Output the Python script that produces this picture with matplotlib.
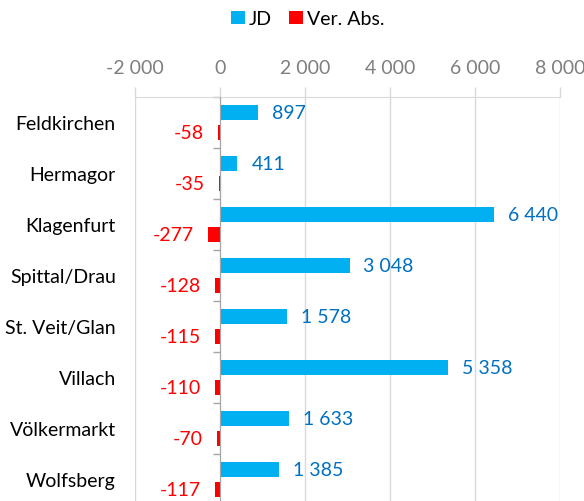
import numpy as np
import matplotlib
matplotlib.use('Agg')
import matplotlib.pyplot as plt

plt.rcParams['font.family'] = ['Lato', 'DejaVu Sans']

bezirke = ['Feldkirchen', 'Hermagor', 'Klagenfurt', 'Spittal/Drau',
           'St. Veit/Glan', 'Villach', 'Völkermarkt', 'Wolfsberg']
jd = [897, 411, 6440, 3048, 1578, 5358, 1633, 1385]
ver_abs = [-58, -35, -277, -128, -115, -110, -70, -117]

xticks = [-2000, 0, 2000, 4000, 6000, 8000]

c_jd = '#00B0F0'
c_jd_txt = '#0070C0'
c_red = '#FF0000'
c_grid = '#D9D9D9'
c_tick = '#7F7F7F'
fs = 14


def fmt(v):
    return f'{v:,}'.replace(',', ' ')


fig = plt.figure(figsize=(5.84, 5.02), dpi=100)
# plot area: x from 135 to 560 px, y from 98 px down past the bottom edge
ax = fig.add_axes([135 / 584, -4 / 502, 425 / 584, 408 / 502])

y = np.arange(len(bezirke))
h = 0.3
ax.barh(y - 0.19, jd, h, color=c_jd, label='JD', zorder=3)
ax.barh(y + 0.19, ver_abs, h, color=c_red, label='Ver. Abs.', zorder=3)

for yi, v in zip(y, jd):
    ax.annotate(fmt(v), (v, yi - 0.19), xytext=(10, 0), textcoords='offset points',
                ha='left', va='center', color=c_jd_txt, fontsize=fs)
for yi, v in zip(y, ver_abs):
    ax.annotate(fmt(v), (v, yi + 0.19), xytext=(-10, 0), textcoords='offset points',
                ha='right', va='center', color=c_red, fontsize=fs)

ax.set_xlim(-2000, 8000)
ax.set_ylim(len(bezirke) - 0.5, -0.5)
ax.set_xticks(xticks)
ax.set_xticklabels([fmt(t) for t in xticks])
ax.xaxis.tick_top()
ax.tick_params(axis='x', colors=c_grid, labelcolor=c_tick, labelsize=fs,
               length=7, width=1, pad=8)
ax.grid(axis='x', color=c_grid, lw=1, zorder=0)

ax.set_yticks(y)
ax.set_yticklabels(bezirke)
ax.set_yticks(np.arange(len(bezirke) + 1) - 0.5, minor=True)
ax.tick_params(axis='y', which='major', length=0, pad=75, labelsize=fs, labelcolor='black')
ax.tick_params(axis='y', which='minor', length=5, width=1, color='#A6A6A6')

ax.spines['left'].set_position(('data', 0))
ax.spines['left'].set_color('#A6A6A6')
ax.spines['left'].set_zorder(4)
ax.spines['top'].set_color(c_grid)
ax.spines['right'].set_visible(False)
ax.spines['bottom'].set_visible(False)

fig.legend(loc='upper center', bbox_to_anchor=(0.527, 1.012), ncol=2, frameon=False,
           fontsize=fs, handlelength=0.7, handleheight=0.7, handletextpad=0.2,
           columnspacing=0.9)

fig.savefig('out.png', dpi=100)
